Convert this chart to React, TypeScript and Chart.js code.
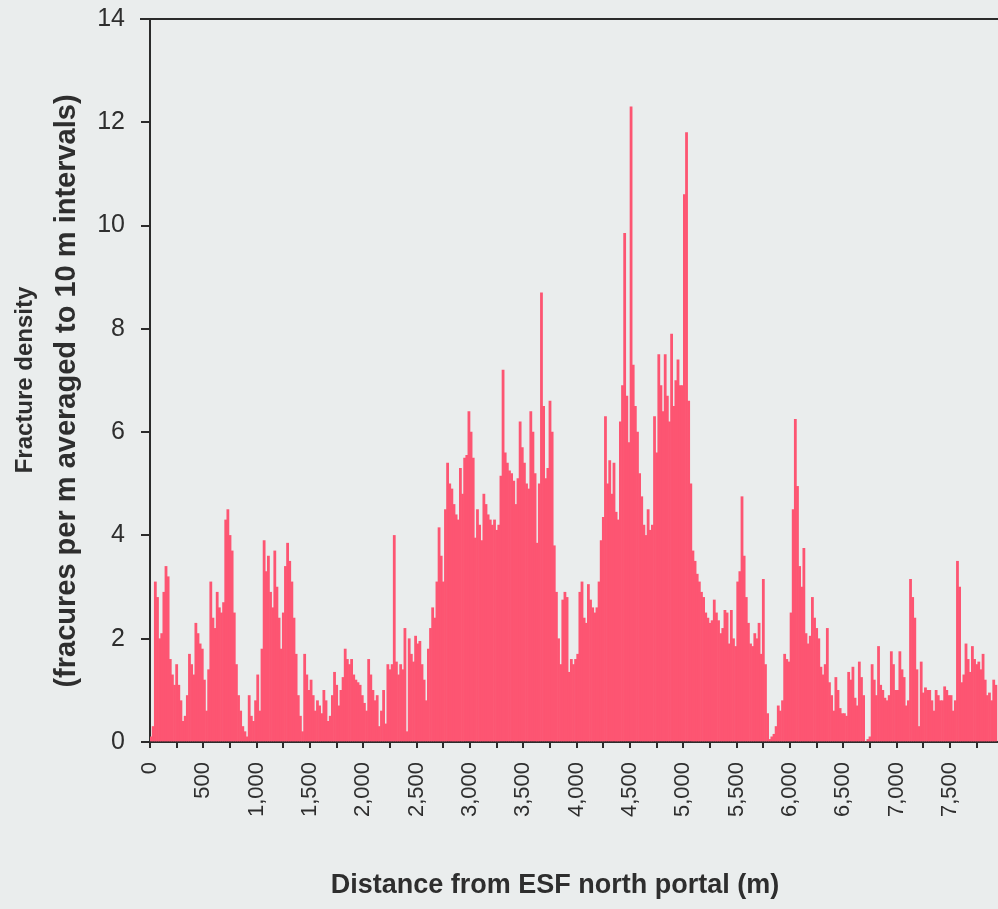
import React, { useEffect, useRef } from "react";
import { Chart, registerables } from "chart.js";

Chart.register(...registerables);

// Fracture density (fractures per m) in 20 m bins, one array per 500 m of tunnel
const d0000_0500 = [0.1, 0.3, 3.1, 2.8, 2.0, 2.1, 2.9, 3.4, 3.2, 1.6, 1.3, 1.1, 1.5, 1.1, 0.8, 0.4, 0.5, 0.9, 1.7, 1.5, 1.3, 2.3, 2.1, 1.9, 1.8];
const d0500_1000 = [1.2, 0.6, 1.4, 3.1, 2.4, 2.2, 2.9, 2.6, 2.5, 2.7, 4.3, 4.5, 4.0, 3.7, 2.5, 1.5, 0.9, 0.6, 0.3, 0.2, 0.1, 0.9, 0.5, 0.4, 0.8];
const d1000_1500 = [1.3, 0.6, 1.8, 3.9, 3.3, 3.6, 2.9, 2.6, 3.7, 3.0, 2.4, 1.8, 2.5, 3.4, 3.85, 3.5, 3.1, 2.4, 1.7, 0.9, 0.5, 0.2, 1.7, 1.3, 1.0];
const d1500_2000 = [1.2, 0.9, 0.6, 0.8, 0.7, 0.55, 1.0, 0.8, 0.4, 0.5, 0.9, 1.35, 1.1, 0.7, 1.0, 1.25, 1.8, 1.6, 1.5, 1.6, 1.3, 1.2, 1.15, 1.1, 0.9];
const d2000_2500 = [0.75, 0.6, 1.6, 1.3, 1.0, 0.8, 0.9, 0.3, 0.6, 1.0, 0.35, 1.5, 1.4, 1.5, 4.0, 1.55, 1.3, 1.5, 1.4, 2.2, 0.2, 2.0, 1.7, 1.55, 2.05];
const d2500_3000 = [1.9, 1.95, 1.5, 1.2, 0.8, 1.8, 2.2, 2.6, 2.4, 3.1, 4.15, 3.6, 3.1, 4.5, 5.4, 5.0, 4.9, 4.6, 4.4, 4.3, 5.3, 4.8, 5.5, 5.55, 6.4];
const d3000_3500 = [6.0, 5.5, 3.95, 4.5, 4.2, 3.9, 4.8, 4.6, 4.4, 4.3, 4.2, 4.3, 4.1, 4.2, 5.15, 7.2, 5.6, 5.4, 5.25, 5.2, 5.05, 4.6, 5.1, 6.2, 5.7];
const d3500_4000 = [5.4, 5.0, 4.9, 6.4, 6.0, 5.2, 3.85, 5.0, 8.7, 6.5, 5.1, 5.3, 6.6, 6.0, 3.8, 2.9, 2.0, 1.5, 2.75, 2.9, 2.8, 1.35, 1.6, 1.5, 1.6];
const d4000_4500 = [1.7, 2.9, 3.1, 2.4, 2.3, 3.05, 2.75, 2.6, 2.5, 2.6, 3.1, 3.9, 4.35, 6.3, 5.0, 5.45, 4.8, 5.4, 4.45, 4.3, 6.2, 6.9, 9.85, 6.7, 5.8];
const d4500_5000 = [12.3, 7.3, 6.5, 6.0, 5.2, 4.75, 4.2, 4.0, 4.5, 4.1, 4.2, 6.3, 5.6, 7.5, 6.9, 6.4, 7.5, 6.7, 6.2, 7.9, 6.5, 7.0, 7.4, 6.9, 6.9];
const d5000_5500 = [10.6, 11.8, 6.6, 5.0, 3.7, 3.5, 3.25, 3.1, 2.9, 2.8, 2.5, 2.4, 2.3, 2.35, 2.75, 2.5, 2.35, 2.1, 2.2, 2.55, 2.5, 1.9, 2.55, 2.0, 1.85];
const d5500_6000 = [3.1, 3.3, 4.75, 3.6, 2.8, 2.3, 1.9, 1.85, 2.1, 2.0, 2.3, 1.7, 3.15, 1.5, 0.55, 0.05, 0.1, 0.15, 0.3, 0.7, 0.6, 0.8, 1.7, 1.6, 1.55];
const d6000_6500 = [2.5, 4.5, 6.25, 4.95, 3.4, 3.0, 3.75, 2.1, 1.9, 2.05, 2.8, 2.4, 2.2, 2.0, 1.45, 1.3, 1.5, 2.2, 1.15, 0.9, 0.6, 1.25, 1.0, 0.65, 0.55];
const d6500_7000 = [0.55, 0.5, 1.35, 1.2, 1.45, 0.85, 0.7, 1.55, 1.25, 0.9, 0.0, 0.05, 0.1, 1.5, 1.2, 0.9, 1.85, 1.1, 1.0, 0.85, 0.8, 0.9, 1.75, 1.5, 1.0];
const d7000_7500 = [1.0, 1.75, 1.4, 1.25, 0.7, 0.8, 3.15, 2.8, 2.4, 1.4, 0.3, 1.55, 0.95, 1.05, 1.0, 1.0, 0.8, 0.6, 1.0, 0.9, 0.8, 0.8, 1.07, 1.0, 0.9];
const d7500_7940 = [0.9, 0.6, 0.8, 3.5, 3.0, 1.15, 1.3, 1.9, 1.6, 1.35, 1.85, 1.6, 1.5, 1.55, 1.4, 1.7, 1.2, 0.9, 0.95, 0.8, 1.2, 1.1];

const fractureDensity = [
  ...d0000_0500, ...d0500_1000, ...d1000_1500, ...d1500_2000,
  ...d2000_2500, ...d2500_3000, ...d3000_3500, ...d3500_4000,
  ...d4000_4500, ...d4500_5000, ...d5000_5500, ...d5500_6000,
  ...d6000_6500, ...d6500_7000, ...d7000_7500, ...d7500_7940,
];

const BIN_WIDTH_M = 20;
// bin centres along the tunnel (m)
const binCentres = fractureDensity.map((_, i) => i * BIN_WIDTH_M + BIN_WIDTH_M / 2);

// major (labelled) and minor tick positions on the distance axis
const xTickValues = [0, 250, 500, 750, 1000, 1250, 1500, 1750, 2000, 2250, 2500, 2750, 3000, 3250, 3500, 3750, 4000, 4250, 4500, 4750, 5000, 5250, 5500, 5750, 6000, 6250, 6500, 6750, 7000, 7250, 7500, 7750];
const xTickLabels = ["0", "500", "1,000", "1,500", "2,000", "2,500", "3,000", "3,500", "4,000", "4,500", "5,000", "5,500", "6,000", "6,500", "7,000", "7,500"];
const yTickValues = [0, 2, 4, 6, 8, 10, 12, 14];
const yTickLabels = ["0", "2", "4", "6", "8", "10", "12", "14"];

const xTitle = "Distance from ESF north portal (m)";
const yTitle = ["Fracture density", "(fracures per m averaged to 10 m intervals)"];

const BG = "#eaeded";
const BAR = "#fd5572";
const AXIS = "#2b2b2b";
const TEXT = "#2e2e2e";
const FONT = "'Liberation Sans', Arial, Helvetica, sans-serif";

const backgroundPlugin = {
  id: "bgFill",
  beforeDraw(chart: any) {
    const { ctx, width, height } = chart;
    ctx.save();
    ctx.fillStyle = BG;
    ctx.fillRect(0, 0, width, height);
    ctx.restore();
  },
};

const frameAndTitlesPlugin = {
  id: "frameAndTitles",
  afterDraw(chart: any) {
    const { ctx, chartArea } = chart;
    ctx.save();
    // top frame line
    ctx.strokeStyle = AXIS;
    ctx.lineWidth = 2;
    ctx.beginPath();
    ctx.moveTo(chartArea.left - 10, chartArea.top);
    ctx.lineTo(chartArea.right, chartArea.top);
    ctx.stroke();

    ctx.fillStyle = TEXT;
    ctx.textAlign = "center";
    ctx.textBaseline = "middle";
    // x axis title
    ctx.font = `bold 27px ${FONT}`;
    ctx.fillText(xTitle, 555, 886);
    // y axis title, two lines
    ctx.save();
    ctx.translate(25, 380);
    ctx.rotate(-Math.PI / 2);
    ctx.font = `bold 24px ${FONT}`;
    ctx.fillText(yTitle[0], 0, 0);
    ctx.restore();
    ctx.save();
    ctx.translate(67, 391);
    ctx.rotate(-Math.PI / 2);
    ctx.font = `bold 29px ${FONT}`;
    ctx.fillText(yTitle[1], 0, 0);
    ctx.restore();
    ctx.restore();
  },
};

export default function App() {
  const canvasRef = useRef<HTMLCanvasElement | null>(null);

  useEffect(() => {
    const canvas = canvasRef.current;
    if (!canvas) return;
    const chart = new Chart(canvas, {
      type: "bar",
      data: {
        datasets: [
          {
            data: fractureDensity.map((v, i) => ({ x: binCentres[i], y: v })),
            backgroundColor: BAR,
            borderWidth: 0,
            barPercentage: 1,
            categoryPercentage: 1,
          } as any,
        ],
      },
      options: {
        animation: false,
        responsive: false,
        maintainAspectRatio: false,
        layout: { padding: { top: 19, left: 0, right: 0, bottom: 0 } },
        plugins: {
          legend: { display: false },
          tooltip: { enabled: false },
        },
        scales: {
          x: {
            type: "linear",
            min: 0,
            max: 7950,
            offset: false,
            afterBuildTicks: (s: any) => {
              s.ticks = xTickValues.map((v) => ({ value: v }));
            },
            afterFit: (s: any) => {
              s.height = 167;
              s.paddingLeft = 0;
              s.paddingRight = 0;
            },
            ticks: {
              autoSkip: false,
              maxRotation: 90,
              minRotation: 90,
              padding: 14,
              color: TEXT,
              font: { family: FONT, size: 22 },
              callback: (_v: any, i: number) => (i % 2 === 0 ? xTickLabels[i / 2] ?? "" : ""),
            },
            grid: {
              display: true,
              offset: false,
              drawOnChartArea: false,
              drawTicks: true,
              tickLength: 6,
              color: AXIS,
              lineWidth: 2,
            },
            border: { display: true, color: AXIS, width: 2 },
            title: { display: false },
          },
          y: {
            type: "linear",
            min: 0,
            max: 14,
            afterBuildTicks: (s: any) => {
              s.ticks = yTickValues.map((v) => ({ value: v }));
            },
            afterFit: (s: any) => {
              s.width = 150;
              s.paddingTop = 0;
              s.paddingBottom = 0;
            },
            ticks: {
              padding: 16,
              color: TEXT,
              font: { family: FONT, size: 25 },
              callback: (_v: any, i: number) => yTickLabels[i] ?? "",
            },
            grid: {
              display: true,
              offset: false,
              drawOnChartArea: false,
              drawTicks: true,
              tickLength: 9,
              color: AXIS,
              lineWidth: 2,
            },
            border: { display: true, color: AXIS, width: 2 },
            title: { display: false },
          },
        },
      },
      plugins: [backgroundPlugin, frameAndTitlesPlugin],
    });
    return () => chart.destroy();
  }, []);

  return (
    <div style={{ position: "absolute", left: 0, top: 0, width: 998, height: 909, background: BG }}>
      <canvas ref={canvasRef} width={998} height={909} style={{ display: "block", width: 998, height: 909 }} />
    </div>
  );
}
